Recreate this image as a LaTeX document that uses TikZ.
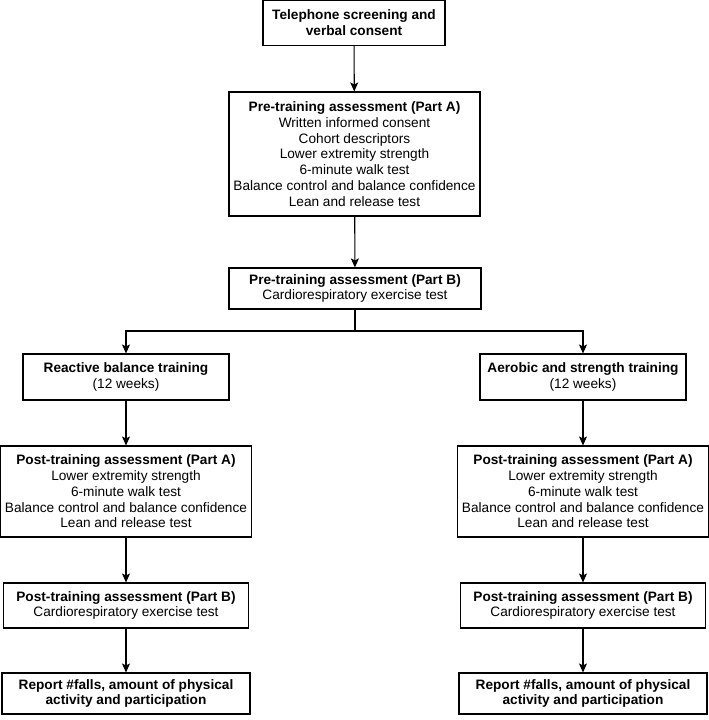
\documentclass[tikz,border=0pt]{standalone}
\usepackage{fontspec}
\setmainfont{Liberation Sans}
\usetikzlibrary{arrows.meta}
\begin{document}
\begin{tikzpicture}[x=1pt,y=-1pt,
  box/.style={draw,line width=1.1pt,inner sep=0pt,align=center,
    font=\fontsize{13.65}{15.8}\selectfont},
  arr/.style={line width=1.1pt,-{Stealth[length=9pt,width=8pt,inset=2pt]}}]
\useasboundingbox (0,0) rectangle (709,720);
% top of the chart
\node[box,minimum width=182,minimum height=45] (tel) at (354,23) {\textbf{Telephone screening and}\\\textbf{verbal consent}};
\node[box,minimum width=251,minimum height=124] (preA) at (354.5,154) {\textbf{Pre-training assessment (Part A)}\\Written informed consent\\Cohort descriptors\\Lower extremity strength\\6-minute walk test\\Balance control and balance confidence\\Lean and release test};
\node[box,minimum width=252,minimum height=41] (preB) at (355,288.5) {\textbf{Pre-training assessment (Part B)}\\Cardiorespiratory exercise test};
\coordinate (fork) at (355,331);
% left arm
\node[box,minimum width=206,minimum height=46] (rbt) at (126,377) {\textbf{Reactive balance training}\\(12 weeks)};
\node[box,minimum width=251,minimum height=91] (postAl) at (126,491.5) {\textbf{Post-training assessment (Part A)}\\Lower extremity strength\\6-minute walk test\\Balance control and balance confidence\\Lean and release test};
\node[box,minimum width=245,minimum height=45] (postBl) at (126,605.5) {\textbf{Post-training assessment (Part B)}\\Cardiorespiratory exercise test};
\node[box,minimum width=248,minimum height=41] (repl) at (126,693.5) {\textbf{Report \#falls, amount of physical}\\\textbf{activity and participation}};
% right arm
\node[box,minimum width=206,minimum height=46] (ast) at (583,377) {\textbf{Aerobic and strength training}\\(12 weeks)};
\node[box,minimum width=251,minimum height=91] (postAr) at (583,491.5) {\textbf{Post-training assessment (Part A)}\\Lower extremity strength\\6-minute walk test\\Balance control and balance confidence\\Lean and release test};
\node[box,minimum width=245,minimum height=45] (postBr) at (583,605.5) {\textbf{Post-training assessment (Part B)}\\Cardiorespiratory exercise test};
\node[box,minimum width=248,minimum height=41] (repr) at (583,693.5) {\textbf{Report \#falls, amount of physical}\\\textbf{activity and participation}};
% connectors
\draw[arr] (tel) -- (preA);
\draw[arr] (preA) -- (preB);
\draw[line width=1.1pt] (preB.south) -- (fork);
\draw[arr] (fork) -| (rbt);
\draw[arr] (fork) -| (ast);
\draw[arr] (rbt) -- (postAl);
\draw[arr] (postAl) -- (postBl);
\draw[arr] (postBl) -- (repl);
\draw[arr] (ast) -- (postAr);
\draw[arr] (postAr) -- (postBr);
\draw[arr] (postBr) -- (repr);
\end{tikzpicture}
\end{document}
